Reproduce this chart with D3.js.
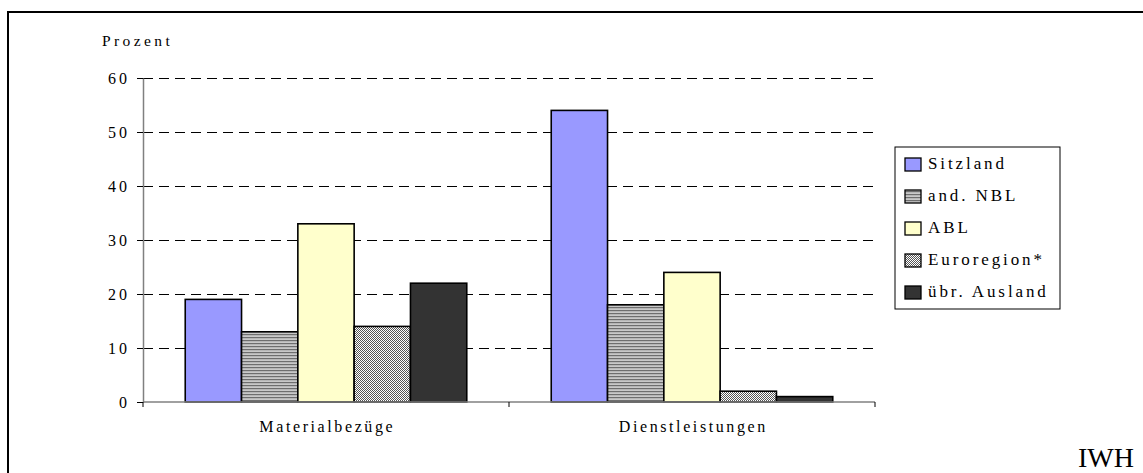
<!DOCTYPE html>
<html>
<head>
<meta charset="utf-8">
<script src="https://cdn.jsdelivr.net/npm/d3@7"></script>
<style>
  body { margin: 0; background: #fff; }
  text { font-family: "Liberation Serif", "Times New Roman", serif; fill: #000; }
</style>
</head>
<body>
<svg id="chart" width="1143" height="473"></svg>
<script>
// Daten
var kategorien = ["Materialbezüge", "Dienstleistungen"];
var serien = ["Sitzland", "and. NBL", "ABL", "Euroregion*", "übr. Ausland"];
var werte = {
  "Sitzland":     [19, 54],
  "and. NBL":     [13, 18],
  "ABL":          [33, 24],
  "Euroregion*":  [14, 2],
  "übr. Ausland": [22, 1]
};
var yTicks = [0, 10, 20, 30, 40, 50, 60];

var svg = d3.select("#chart");

// Muster für die schraffierten Balken
var defs = svg.append("defs");
var streifen = defs.append("pattern")
  .attr("id", "streifen").attr("patternUnits", "userSpaceOnUse")
  .attr("width", 4).attr("height", 3);
streifen.append("rect").attr("width", 4).attr("height", 3).attr("fill", "#c8c8c8");
streifen.append("rect").attr("y", 1).attr("width", 4).attr("height", 1.2).attr("fill", "#6e6e6e");

var karo = defs.append("pattern")
  .attr("id", "karo").attr("patternUnits", "userSpaceOnUse")
  .attr("width", 2).attr("height", 2);
karo.append("rect").attr("width", 2).attr("height", 2).attr("fill", "#ffffff");
karo.append("rect").attr("width", 1).attr("height", 1).attr("fill", "#555");
karo.append("rect").attr("x", 1).attr("y", 1).attr("width", 1).attr("height", 1).attr("fill", "#555");

var farben = {
  "Sitzland": "#9999ff",
  "and. NBL": "url(#streifen)",
  "ABL": "#ffffcc",
  "Euroregion*": "url(#karo)",
  "übr. Ausland": "#333333"
};

// Rahmen
svg.append("rect")
  .attr("x", 8).attr("y", 12).attr("width", 1140).attr("height", 470)
  .attr("fill", "none").attr("stroke", "#000").attr("stroke-width", 2);

var x0 = 143, x1 = 875, yTop = 78, yBottom = 402;

var x = d3.scaleBand().domain(kategorien).range([x0, x1]);
var y = d3.scaleLinear().domain([0, 60]).range([yBottom, yTop]);
// Excel-Lückenbreite 150 %
var innen = x.bandwidth() / (serien.length + 1.5);

// Gitterlinien
svg.append("g").selectAll("line")
  .data(yTicks.filter(function (d) { return d > 0; }))
  .enter().append("line")
  .attr("x1", x0).attr("x2", x1)
  .attr("y1", function (d) { return y(d); })
  .attr("y2", function (d) { return y(d); })
  .attr("stroke", "#000").attr("stroke-width", 1)
  .attr("stroke-dasharray", "10,6")
  .attr("shape-rendering", "crispEdges");

// Y-Achse
var yAxis = svg.append("g")
  .attr("transform", "translate(" + x0 + ",0)")
  .call(d3.axisLeft(y).tickValues(yTicks).tickSize(6).tickPadding(7).tickSizeOuter(0));
yAxis.select(".domain").attr("stroke", "#808080").attr("stroke-width", 1.5);
yAxis.selectAll(".tick line").attr("stroke", "#000");
yAxis.selectAll("text")
  .style("font-family", "Liberation Serif, serif")
  .style("font-size", "16px").style("letter-spacing", "3px");

// Balken
var gruppen = svg.append("g").selectAll("g")
  .data(kategorien)
  .enter().append("g");

gruppen.selectAll("rect")
  .data(function (k, i) {
    return serien.map(function (s, j) { return { kat: k, serie: s, j: j, wert: werte[s][i] }; });
  })
  .enter().append("rect")
  .attr("x", function (d) { return x(d.kat) + innen * 0.75 + d.j * innen; })
  .attr("y", function (d) { return y(d.wert); })
  .attr("width", innen)
  .attr("height", function (d) { return yBottom - y(d.wert); })
  .attr("fill", function (d) { return farben[d.serie]; })
  .attr("stroke", "#000").attr("stroke-width", 1.6);

// X-Achse
var xAxis = svg.append("g")
  .attr("transform", "translate(0," + yBottom + ")")
  .call(d3.axisBottom(x).tickSize(0).tickPadding(19));
xAxis.select(".domain").remove();
xAxis.selectAll("text")
  .attr("dx", "1.3")
  .style("font-family", "Liberation Serif, serif")
  .style("font-size", "16px").style("letter-spacing", "2.6px");
svg.append("line")
  .attr("x1", x0).attr("x2", x1).attr("y1", yBottom).attr("y2", yBottom)
  .attr("stroke", "#808080").attr("stroke-width", 1.5);
svg.append("g").selectAll("line")
  .data([x0, x0 + x.step(), x1])
  .enter().append("line")
  .attr("x1", function (d) { return d; }).attr("x2", function (d) { return d; })
  .attr("y1", yBottom).attr("y2", yBottom + 5)
  .attr("stroke", "#000");

// Achsentitel
svg.append("text")
  .attr("x", 102).attr("y", 46)
  .style("font-size", "15.5px").style("letter-spacing", "3.4px")
  .text("Prozent");

// Legende
var legende = svg.append("g").attr("transform", "translate(895,147)");
legende.append("rect")
  .attr("width", 165).attr("height", 162)
  .attr("fill", "#fff").attr("stroke", "#000").attr("stroke-width", 1);
var eintrag = legende.selectAll("g.eintrag")
  .data(serien)
  .enter().append("g").attr("class", "eintrag")
  .attr("transform", function (d, i) { return "translate(10," + (11 + i * 32) + ")"; });
eintrag.append("rect")
  .attr("width", 16).attr("height", 13)
  .attr("fill", function (d) { return farben[d]; })
  .attr("stroke", "#000").attr("stroke-width", 1.3);
eintrag.append("text")
  .attr("x", 23).attr("y", 11)
  .style("font-size", "17px").style("letter-spacing", "2.9px")
  .text(function (d) { return d; });

// Quelle
svg.append("text")
  .attr("x", 1078).attr("y", 467)
  .style("font-size", "28px")
  .text("IWH");
</script>
</body>
</html>
